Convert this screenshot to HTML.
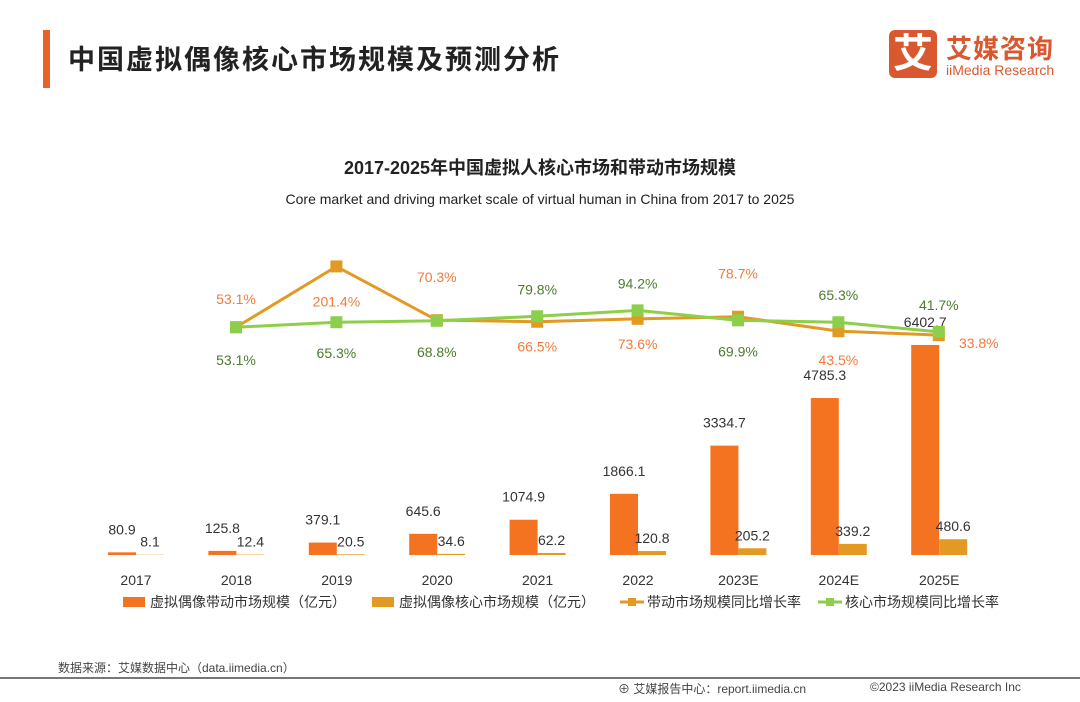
<!DOCTYPE html>
<html><head><meta charset="utf-8"><style>
body{margin:0;width:1080px;height:702px;background:#fff;position:relative;overflow:hidden;font-family:"Liberation Sans","Noto Sans CJK SC",sans-serif}
.a{position:absolute}
</style></head><body>
<div class="a" style="left:43px;top:30px;width:7px;height:58px;background:#e8622a"></div>
<div class="a" style="left:68px;top:38px;font-size:27px;font-weight:bold;color:#222;letter-spacing:2px">中国虚拟偶像核心市场规模及预测分析</div>
<div class="a" style="left:889px;top:30px;width:48px;height:48px;background:#d9582f;border-radius:6px;color:#fff;font-size:40px;font-weight:bold;text-align:center;line-height:48px">艾</div>
<div class="a" style="left:946px;top:29px;font-size:26px;font-weight:bold;color:#d9582f;letter-spacing:1px">艾媒咨询</div>
<div class="a" style="left:946px;top:62px;font-size:14px;color:#d9582f">iiMedia Research</div>
<svg class="a" style="left:0;top:0" width="1080" height="702" id="chart">
<text x="540" y="174" text-anchor="middle" font-size="18" font-weight="bold" fill="#222">2017-2025年中国虚拟人核心市场和带动市场规模</text>
<text x="540" y="204" text-anchor="middle" font-size="14" fill="#222">Core market and driving market scale of virtual human in China from 2017 to 2025</text>
</svg>
<div class="a" style="left:58px;top:659px;font-size:12px;color:#444">数据来源：艾媒数据中心（data.iimedia.cn）</div>
<div class="a" style="left:0;top:677px;width:1080px;height:2px;background:#777"></div>
<div class="a" style="left:618px;top:680px;font-size:12px;color:#444">⊕ 艾媒报告中心：report.iimedia.cn</div>
<div class="a" style="left:870px;top:680px;font-size:12px;color:#444">©2023 iiMedia Research Inc</div>
<script>
const categories=["2017","2018","2019","2020","2021","2022","2023E","2024E","2025E"];
const drivingMarket=[80.9,125.8,379.1,645.6,1074.9,1866.1,3334.7,4785.3,6402.7];
const coreMarket=[8.1,12.4,20.5,34.6,62.2,120.8,205.2,339.2,480.6];
const drivingGrowth=[null,53.1,201.4,70.3,66.5,73.6,78.7,43.5,33.8];
const coreGrowth=[null,53.1,65.3,68.8,79.8,94.2,69.9,65.3,41.7];
const svg=document.getElementById('chart');const NS='http://www.w3.org/2000/svg';
function mk(t,a){const e=document.createElementNS(NS,t);for(const k in a)e.setAttribute(k,a[k]);svg.appendChild(e);return e;}
const xC=i=>136+i*100.4;const base=555;const yB=v=>base-v*0.0328;const yP=v=>349-v*0.41;
categories.forEach((c,i)=>{
 const x=xC(i);
 const b1=mk('rect',{x:x-28,y:yB(drivingMarket[i]),width:28,height:base-yB(drivingMarket[i]),fill:'#f47320'});
 
 const b2=mk('rect',{x:x,y:yB(coreMarket[i]),width:28,height:base-yB(coreMarket[i]),fill:'#e39a22'});
 
 const t1=mk('text',{x:x-14,y:yB(drivingMarket[i])-18,'text-anchor':'middle','font-size':14,fill:'#333'});t1.textContent=drivingMarket[i];
 
 const t2=mk('text',{x:x+14,y:Math.min(yB(coreMarket[i])-8,base-8),'text-anchor':'middle','font-size':14,fill:'#333'});t2.textContent=coreMarket[i];
 
 const tl=mk('text',{x:x,y:585,'text-anchor':'middle','font-size':14,fill:'#333'});tl.textContent=c;
 
});
function series(arr,color,name){
 let pts=[];arr.forEach((v,i)=>{if(v!==null)pts.push([xC(i-1)+100,yP(v)]);});
 const l=mk('polyline',{points:pts.map(p=>p.join(',')).join(' '),fill:'none',stroke:color,'stroke-width':3});
 
 pts.forEach((p,j)=>{const m=mk('rect',{x:p[0]-6,y:p[1]-6,width:12,height:12,fill:color});
  });
 return pts;
}
const op=series(drivingGrowth,'#e39a22','driving-growth');
const gp=series(coreGrowth,'#8dcf4a','core-growth');
const oAbove=[true,false,true,false,false,true,false,false];
const gAbove=[false,false,false,true,true,false,true,true];
op.forEach((p,j)=>{const v=drivingGrowth[j+1];let y=oAbove[j]?(j==0?p[1]-23:p[1]-38):p[1]+30;let x=p[0];
 if(j==1)y=p[1]+40;if(j==6)y=p[1]+34;if(j==7){x=p[0]+40;y=p[1]+13;}
 const t=mk('text',{x:x,y:y,'text-anchor':'middle','font-size':14,fill:'#f47a3c'});t.textContent=v.toFixed(1)+'%';
 });
gp.forEach((p,j)=>{const v=coreGrowth[j+1];let y=gAbove[j]?p[1]-22:p[1]+36;if(j==0)y=p[1]+38;if(j==7)y=p[1]-22;
 const t=mk('text',{x:p[0],y:y,'text-anchor':'middle','font-size':14,fill:'#4d7a2c'});t.textContent=v.toFixed(1)+'%';
 });
const leg=[['rect','#f47320','虚拟偶像带动市场规模（亿元）',123],['rect','#e39a22','虚拟偶像核心市场规模（亿元）',372],['line','#e39a22','带动市场规模同比增长率',620],['line','#8dcf4a','核心市场规模同比增长率',818]];
leg.forEach(l=>{
 if(l[0]=='rect'){const r=mk('rect',{x:l[3],y:597,width:22,height:10,fill:l[1]});}
 else{const a=mk('line',{x1:l[3],x2:l[3]+24,y1:602,y2:602,stroke:l[1],'stroke-width':3});
  const b=mk('rect',{x:l[3]+8,y:598,width:8,height:8,fill:l[1]});}
 const t=mk('text',{x:l[3]+27,y:607,'font-size':14,fill:'#333'});t.textContent=l[2];
 
});
</script>
</body></html>
